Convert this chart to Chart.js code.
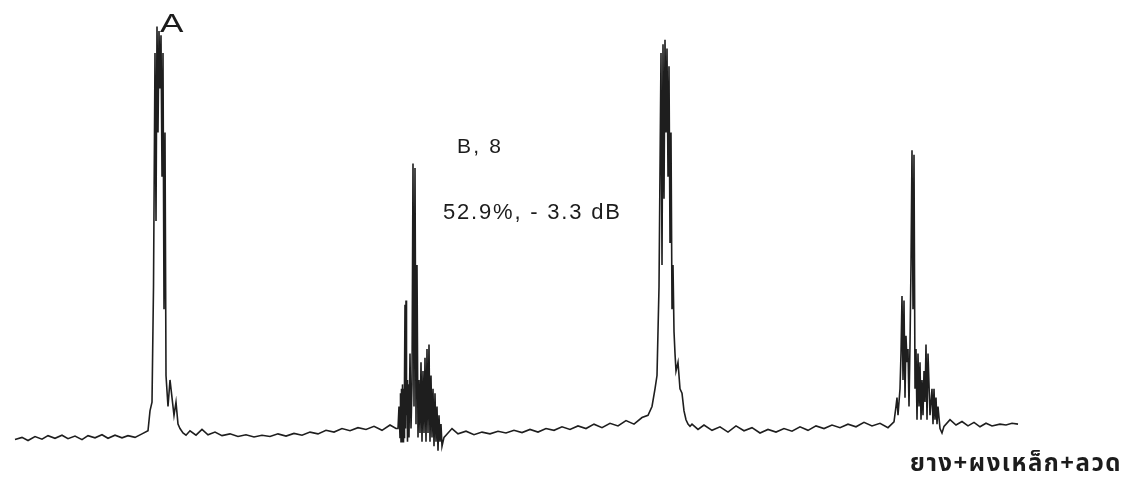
<!DOCTYPE html>
<html>
<head>
<meta charset="utf-8">
<script src="https://cdn.jsdelivr.net/npm/chart.js@4.4.1/dist/chart.umd.min.js"></script>
<style>
  html, body { margin: 0; padding: 0; background: #ffffff; }
  #wrap { width: 1134px; height: 486px; }
</style>
</head>
<body>
<div id="wrap"><canvas id="c" width="1134" height="486"></canvas></div>
<script>
// Time base (sample positions) of the trace, segment by segment
const samplePos = [
  15,22,28,35,42,48,55,62,68,75,82,88,95,102,108,115,122,128,135,142,148,
  150,152,153.5,155,156,157,158,159,160,161,162,163,164,165,166,168,170,172,174,176,178,180,183,186,
  190,196,202,208,215,222,230,238,246,254,262,270,278,286,294,302,310,318,326,334,342,350,358,366,374,382,390,396,
  398,399,400,400.5,401,401.5,402,402.5,403,403.5,404,404.5,405,405.5,406,406.5,407,407.5,
  408,409,410,411,412,413,414,415,416,417,418,419,420,421,422,423,424,425,426,427,428,429,430,431,432,433,434,435,436,437,438,439,440,441,442,444,
  446,452,458,466,474,482,490,498,506,514,522,530,538,546,554,562,570,578,586,594,602,610,618,626,634,642,
  648,652,655,657,659,661,662,663,664,665,666,667,668,669,670,671,672,673,674,675,676,678,680,682,684,686,688,690,
  692,698,704,712,720,728,736,744,752,760,768,776,784,792,800,808,816,824,832,840,848,856,864,872,880,888,
  894,896,897,898,900,901,902,903,904,905,906,907,908,909,910,911,912,913,914,915,916,917,918,919,920,921,922,923,924,925,926,927,928,930,932,933,934,935,936,937,938,940,942,
  944,950,956,962,968,974,980,986,992,1000,1006,1012,1018
];
// Echo amplitude (% screen height) at each sample position
const amplitude = [
  0.5,1.0,0.3,1.2,0.6,1.4,0.8,1.5,0.7,1.3,0.5,1.4,0.9,1.6,0.8,1.5,0.9,1.4,1.0,1.8,2.5,
  7,9,35,88,50,94,70,93,80,92,60,88,30,70,15,8,14,10,6,9,4,3,2,1.5,
  2.5,1.5,2.8,1.6,2.2,1.4,1.8,1.2,1.6,1.1,1.5,1.2,1.8,1.3,1.9,1.5,2.2,1.8,2.6,2.2,3.0,2.5,3.2,2.8,3.5,2.6,3.8,3.0,
  3,8,1,11,0,12,2,13,0,12,1,14,31,3,32,6,14,0,
  13,1,20,3,13,63,8,62,4,40,1,14,2,18,0,16,2,19,0,21,2,22,0,15,1,12,-1,11,0,8,-2,6,0,4,-1,1,
  1.5,3,1.8,2.4,1.6,2.2,1.8,2.4,2.0,2.6,2.1,2.8,2.2,3.0,2.6,3.4,2.8,3.6,3.0,4.0,3.2,4.2,3.6,4.8,4.0,5.5,
  6,8,12,15,35,88,40,90,55,91,70,89,60,85,45,70,30,40,25,20,16,18,12,11,7,5,4,3.5,
  4,2.8,3.8,2.6,3.4,2.2,3.6,2.5,3.2,2.0,2.8,2.2,3.0,2.4,3.4,2.6,3.6,3.0,3.8,3.2,4.0,3.4,4.4,3.6,4.2,3.2,
  4.5,8,10,6,12,20,33,14,32,10,24,18,21,8,22,40,66,30,65,12,21,5,20,8,18,5,14,6,16,9,22,5,20,6,12,4,12,5,10,4,8,3,2,
  3.5,5,3.8,4.6,3.6,4.4,3.4,4.2,3.6,4.0,3.8,4.2,4.0
];
// Annotation texts
const annoText = ["A", "B, 8", "52.9%, - 3.3 dB", "ยาง+ผงเหล็ก+ลวด"];
// Annotation anchors in data units (sample position, amplitude)
const annoPos = [160, 457, 443, 910];
const annoAmp = [94.3, 66.7, 51.8, -5.5];

const annoStyle = [
  { font: "26px 'Liberation Sans', Arial, sans-serif", spacing: "0px", stretch: 1.35 },
  { font: "21px 'Liberation Sans', Arial, sans-serif", spacing: "2.2px", stretch: 1 },
  { font: "22px 'Liberation Sans', Arial, sans-serif", spacing: "1.8px", stretch: 1 },
  { font: "bold 24px 'Noto Sans Thai', 'Noto Sans', 'DejaVu Sans', sans-serif", spacing: "1.5px", stretch: 1 }
];

const points = samplePos.map((x, i) => ({ x: x, y: amplitude[i] }));

const annotationPlugin = {
  id: 'annotations',
  afterDatasetsDraw(chart) {
    const ctx = chart.ctx;
    const xs = chart.scales.x, ys = chart.scales.y;
    annoText.forEach((t, i) => {
      const st = annoStyle[i];
      ctx.save();
      ctx.fillStyle = '#1c1c1c';
      ctx.textBaseline = 'middle';
      ctx.textAlign = 'left';
      ctx.font = st.font;
      try { ctx.letterSpacing = st.spacing; } catch (e) {}
      const px = xs.getPixelForValue(annoPos[i]);
      const py = ys.getPixelForValue(annoAmp[i]);
      ctx.translate(px, py);
      ctx.scale(st.stretch, 1);
      ctx.fillText(t, 0, 0);
      ctx.restore();
    });
  }
};

new Chart(document.getElementById('c'), {
  type: 'line',
  data: {
    datasets: [{
      data: points,
      borderColor: '#1e1e1e',
      borderWidth: 1.6,
      pointRadius: 0,
      tension: 0,
      fill: false
    }]
  },
  options: {
    responsive: false,
    animation: false,
    layout: { padding: 0 },
    plugins: { legend: { display: false }, tooltip: { enabled: false } },
    scales: {
      x: { type: 'linear', min: 0, max: 1134, display: false },
      y: { type: 'linear', min: -10, max: 100, display: false }
    }
  },
  plugins: [annotationPlugin]
});
</script>
</body>
</html>
